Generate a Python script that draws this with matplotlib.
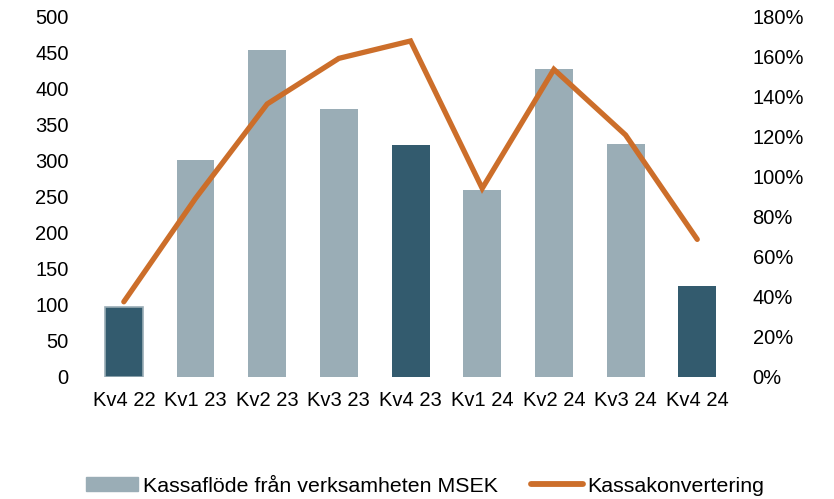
import numpy as np
import matplotlib
matplotlib.use('Agg')
import matplotlib.pyplot as pl
from matplotlib import rcParams
from matplotlib.patches import Patch
from matplotlib.lines import Line2D
from matplotlib.ticker import FuncFormatter

rcParams['font.family'] = ['Liberation Sans', 'DejaVu Sans']
fontsize = 14.5

quarters = ['Kv4 22', 'Kv1 23', 'Kv2 23', 'Kv3 23', 'Kv4 23', 'Kv1 24', 'Kv2 24', 'Kv3 24', 'Kv4 24']
cashflow = [97, 302, 454, 372, 322, 260, 428, 323, 126]       # MSEK
conversion = [37.6, 89.3, 136.5, 159.3, 168, 94.3, 153.8, 121, 68.8]  # %
q4 = [True, False, False, False, True, False, False, False, True]

dark = '#335b6e'
light = '#9aadb6'
orange = '#cc6e2a'

fig = pl.figure(figsize=(8.34, 4.99), dpi=100)
ax = fig.add_axes([0.1055, 0.2445, 0.7735, 0.7215])
x = np.arange(len(quarters))
cols = [dark if k else light for k in q4]
bars = ax.bar(x, cashflow, width=0.53, color=cols, zorder=2)
# first bar has a light outline in the original
bars[0].set_edgecolor(light)
bars[0].set_linewidth(1.2)

ax.set_xlim(-0.5, len(quarters) - 0.5)
ax.set_ylim(0, 500)
ax.set_yticks(range(0, 501, 50))
ax.set_xticks(x)
ax.set_xticklabels(quarters)
ax.tick_params(axis='both', length=0, labelsize=fontsize)
ax.tick_params(axis='y', pad=14)
ax.tick_params(axis='x', pad=10)

ax2 = ax.twinx()
ax2.plot(x, conversion, color=orange, linewidth=3.8, solid_capstyle='round',
         solid_joinstyle='miter', zorder=3)
ax2.set_ylim(0, 180)
ax2.set_yticks(range(0, 181, 20))
ax2.yaxis.set_major_formatter(FuncFormatter(lambda v, p: '%d%%' % v))
ax2.tick_params(axis='y', length=0, labelsize=fontsize, pad=14)

for a in (ax, ax2):
	for s in a.spines.values():
		s.set_visible(False)

handles = [Patch(color=light), Line2D([0], [0], color=orange, linewidth=4.2, solid_capstyle='round')]
fig.legend(handles, ['Kassaflöde från verksamheten MSEK', 'Kassakonvertering'],
           loc='center', bbox_to_anchor=(0.51, 0.026), ncol=2, frameon=False,
           fontsize=15.4, handlelength=2.45, handleheight=0.6, handletextpad=0.2,
           columnspacing=1.55, borderpad=0)

pl.savefig('out.png', dpi=100)
